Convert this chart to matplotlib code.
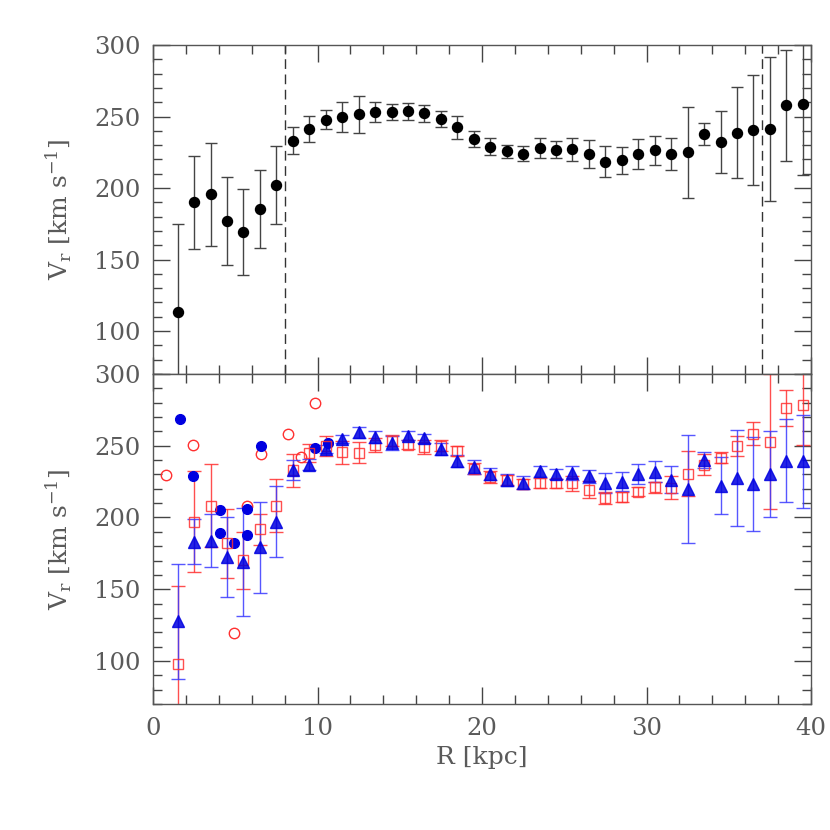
import matplotlib
matplotlib.use('Agg')
import matplotlib.pyplot as plt
from matplotlib.ticker import MultipleLocator

# ---------------- data ----------------
r_top = [1.5, 2.5, 3.5, 4.5, 5.5, 6.5, 7.5, 8.5, 9.5, 10.5, 11.5, 12.5, 13.5, 14.5,
         15.5, 16.5, 17.5, 18.5, 19.5, 20.5, 21.5, 22.5, 23.5, 24.5, 25.5, 26.5, 27.5,
         28.5, 29.5, 30.5, 31.5, 32.5, 33.5, 34.5, 35.5, 36.5, 37.5, 38.5, 39.5]
v_top = [113.0, 190.0, 195.7, 176.9, 169.0, 185.3, 202.2, 233.2, 241.1, 247.8, 249.7,
         251.5, 253.2, 253.2, 253.6, 252.2, 248.5, 242.5, 234.3, 229.0, 225.7, 224.1,
         227.8, 226.9, 227.1, 223.9, 218.5, 219.4, 223.9, 226.4, 223.6, 225.0, 238.0,
         232.2, 238.5, 240.6, 241.5, 257.8, 259.0]
e_top = [62.0, 32.7, 36.0, 31.0, 30.0, 27.5, 27.0, 9.4, 9.1, 6.5, 10.2, 12.8, 7.1, 5.8,
         5.8, 6.2, 5.7, 7.9, 5.3, 5.9, 4.5, 5.2, 7.0, 5.8, 8.1, 9.8, 10.7, 9.6, 10.3,
         10.0, 11.3, 32.0, 7.7, 21.9, 31.8, 38.2, 50.4, 39.0, 50.0]

r_bot = r_top
v_tri = [127.6, 183.2, 183.9, 172.3, 168.8, 179.2, 197.1, 233.4, 236.9, 247.8, 254.8,
         259.4, 256.2, 252.0, 257.1, 255.2, 247.8, 239.2, 235.3, 230.5, 226.0, 224.3,
         232.2, 230.4, 231.1, 228.8, 224.1, 225.0, 230.6, 232.0, 226.4, 220.1, 239.9,
         222.2, 227.4, 223.4, 230.6, 239.7, 239.2]
e_tri = [40.3, 15.7, 18.5, 28.0, 37.8, 31.5, 24.6, 7.0, 4.0, 3.0, 3.0, 4.0, 4.0, 5.0,
         3.0, 3.0, 4.0, 4.0, 5.0, 4.3, 4.0, 4.4, 4.0, 3.5, 5.0, 4.6, 7.0, 6.6, 7.0, 7.2,
         9.6, 37.7, 5.5, 20.0, 33.3, 33.0, 30.0, 29.0, 32.4]
v_sq = [98.1, 197.1, 208.3, 182.0, 170.2, 191.8, 208.3, 232.9, 245.0, 249.7, 245.5,
        245.1, 250.4, 253.6, 250.8, 249.2, 250.1, 246.4, 234.0, 228.1, 225.8, 223.4,
        224.1, 223.9, 223.9, 219.4, 213.6, 214.3, 218.0, 221.1, 220.8, 230.6, 236.9,
        241.8, 249.9, 258.5, 252.7, 276.2, 278.7]
e_sq = [54.0, 35.0, 29.0, 24.0, 20.0, 10.7, 18.5, 11.5, 6.0, 7.0, 8.0, 7.3, 5.0, 4.0,
        3.3, 5.0, 4.0, 3.3, 4.0, 4.3, 3.5, 3.7, 3.3, 3.2, 5.2, 5.8, 4.4, 3.3, 3.0, 3.7,
        7.9, 15.6, 7.0, 4.0, 7.1, 7.7, 47.0, 12.3, 28.0]

r_bc = [1.64, 2.46, 4.10, 4.10, 4.92, 5.74, 5.74, 6.56, 9.84, 10.66]
v_bc = [268.7, 228.8, 205.0, 189.2, 182.3, 206.2, 188.0, 250.1, 248.3, 251.8]
r_rc = [0.82, 2.46, 4.92, 5.74, 6.56, 8.20, 9.02, 9.84]
v_rc = [229.9, 250.4, 119.7, 207.8, 244.3, 258.5, 242.2, 280.1]

r_dash = [8.0, 37.0]
x_ticks = [0, 10, 20, 30, 40]
y_ticks = [100, 150, 200, 250, 300]

# ---------------- style ----------------
plt.rcParams['font.family'] = ['DejaVu Serif']
plt.rcParams['mathtext.fontset'] = 'dejavuserif'
TXT = '#5a5a5a'
AXC = '#555555'
BLUE = '#0000e0'
RED = '#ff3030'

fig = plt.figure(figsize=(8.3, 8.3), dpi=100)
L, R = 153 / 830, 811 / 830
ytop, ymid, ybot = 1 - 45 / 830, 1 - 374 / 830, 1 - 704 / 830
ax1 = fig.add_axes([L, ymid, R - L, ytop - ymid])
ax2 = fig.add_axes([L, ybot, R - L, ymid - ybot])

for ax in (ax1, ax2):
    ax.set_xlim(0, 40)
    ax.set_ylim(70, 300)
    ax.set_xticks(x_ticks)
    ax.set_yticks(y_ticks)
    ax.xaxis.set_minor_locator(MultipleLocator(2))
    ax.yaxis.set_minor_locator(MultipleLocator(10))
    ax.tick_params(which='both', direction='in', top=True, right=True,
                   color='#444444', width=1.0)
    ax.tick_params(which='major', length=12, labelsize=17.5, labelcolor=TXT, pad=9)
    ax.tick_params(which='minor', length=6.5)
    for s in ax.spines.values():
        s.set_color(AXC)
        s.set_linewidth(1.0)
    ax.set_ylabel(r'V$_{\rm r}$ [km s$^{-1}$]', fontsize=18, color=TXT)
    ax.yaxis.set_label_coords(-0.12, 0.5)

ax1.tick_params(labelbottom=False)

# top panel
for xd in r_dash:
    ax1.axvline(xd, color='#333333', lw=1.0, dashes=(7, 4))
ax1.errorbar(r_top, v_top, yerr=e_top, fmt='o', color='black', ms=7.2,
             ecolor='#444444', elinewidth=1.0, capsize=4.5, capthick=1.0)

# bottom panel
ax2.plot(r_rc, v_rc, 'o', mfc='none', mec=RED, ms=7.5, mew=1.0)
ax2.errorbar(r_bot, v_sq, yerr=e_sq, fmt='s', mfc='none', mec=RED, ms=7.5, mew=1.0,
             ecolor=RED, elinewidth=1.0, capsize=5, capthick=1.0, alpha=0.85)
ax2.errorbar(r_bot, v_tri, yerr=e_tri, fmt='^', color=BLUE, ms=8,
             ecolor='#3a3aff', elinewidth=1.0, capsize=5, capthick=1.0, alpha=0.85)
ax2.plot(r_bc, v_bc, 'o', color=BLUE, ms=7)

ax2.set_xlabel('R [kpc]', fontsize=18, color=TXT, labelpad=5)

fig.savefig('out.png', dpi=100)
